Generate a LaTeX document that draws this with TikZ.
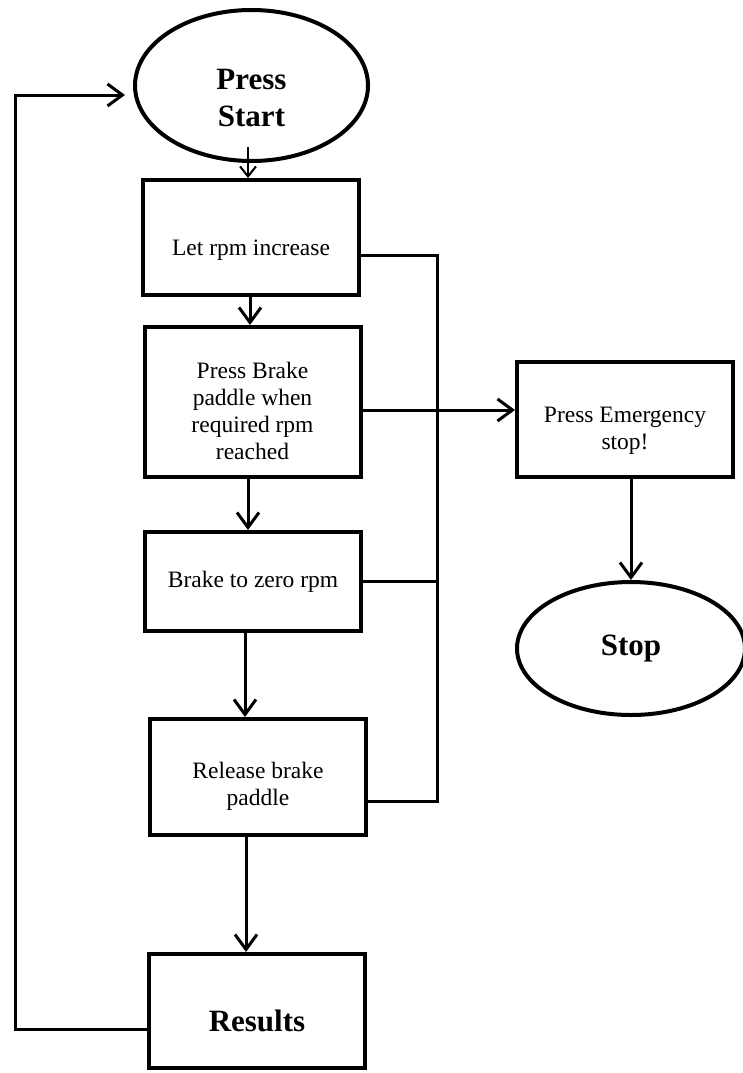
\documentclass[tikz,border=0pt]{standalone}
\usepackage{fontspec}
\setmainfont{Liberation Serif}
\usetikzlibrary{shapes.geometric,arrows.meta,calc}

\begin{document}
\begin{tikzpicture}[x=1pt, y=-1pt, line width=3pt,
    block/.style={rectangle, draw, line width=4pt, minimum width=216pt, inner sep=0pt, align=center, font=\fontsize{23.5}{27}\selectfont},
    term/.style={ellipse, draw, line width=4pt, inner sep=0pt, align=center, font=\bfseries\fontsize{31}{37}\selectfont},
    >={Straight Barb[length=15pt,width=22pt]}]
            \useasboundingbox (0,0) rectangle (742,1073);
            % Nodes
            \node[term, minimum width=233pt, minimum height=151pt] (start) at (251.5,85.5) {\rule{0pt}{45pt}Press\\Start};
            \node[block, minimum height=115pt] (b1) at (251,237.5) {\rule{0pt}{40pt}Let rpm increase};
            \node[block, minimum height=150pt] (b2) at (252.5,402) {\rule{0pt}{34pt}Press Brake\\paddle when\\required rpm\\reached};
            \node[block, minimum height=99pt] (b3) at (253,581.5) {Brake to zero rpm};
            \node[block, minimum height=116pt] (b4) at (258,777) {\rule{0pt}{34pt}Release brake\\paddle};
            \node[block, minimum height=114pt, font=\bfseries\fontsize{31}{37}\selectfont] (res) at (257,1011) {\rule{0pt}{41pt}Results};
            \node[block, minimum height=115pt] (emg) at (625,419.5) {\rule{0pt}{38pt}Press Emergency\\stop!};
            \node[term, minimum width=228pt, minimum height=133pt] (stop) at (631,648.5) {Stop};
            \coordinate (bus1) at (437,255);
            \coordinate (bus2) at (437,801);
            \coordinate (loopT) at (15,95);
            \coordinate (loopE) at (125,95);
            % Arestas
            \draw[->, line width=2pt, >={Straight Barb[length=10pt,width=16pt]}] ([xshift=-3.5pt,yshift=16pt]start.south) -- ([xshift=-3.5pt]start.south |- b1.north);
            \draw[->] ([xshift=-1pt]b1.south) -- ([xshift=-1pt]b1.south |- b2.north);
            \draw[->] ([xshift=-4.5pt]b2.south) -- ([xshift=-4.5pt]b2.south |- b3.north);
            \draw[->] ([xshift=-8pt]b3.south) -- ([xshift=-8pt]b3.south |- b4.north);
            \draw[->] ([xshift=-12pt]b4.south) -- ([xshift=-12pt]b4.south |- res.north);
            \draw[->] ([yshift=-8pt]b2.east) -- ([yshift=-8pt]b2.east -| emg.west);
            \draw[->] ([xshift=6pt]emg.south) -- ([xshift=6pt]emg.south |- stop.north);
            \draw ([yshift=-17.5pt]b1.east) -- (bus1) -- (bus2) -- (bus2 -| b4.east);
            \draw (b3.east) -- (b3.east -| bus1);
            \draw[->] ([yshift=-18pt]res.west) -| (loopT) -- (loopE);
\end{tikzpicture}
\end{document}
